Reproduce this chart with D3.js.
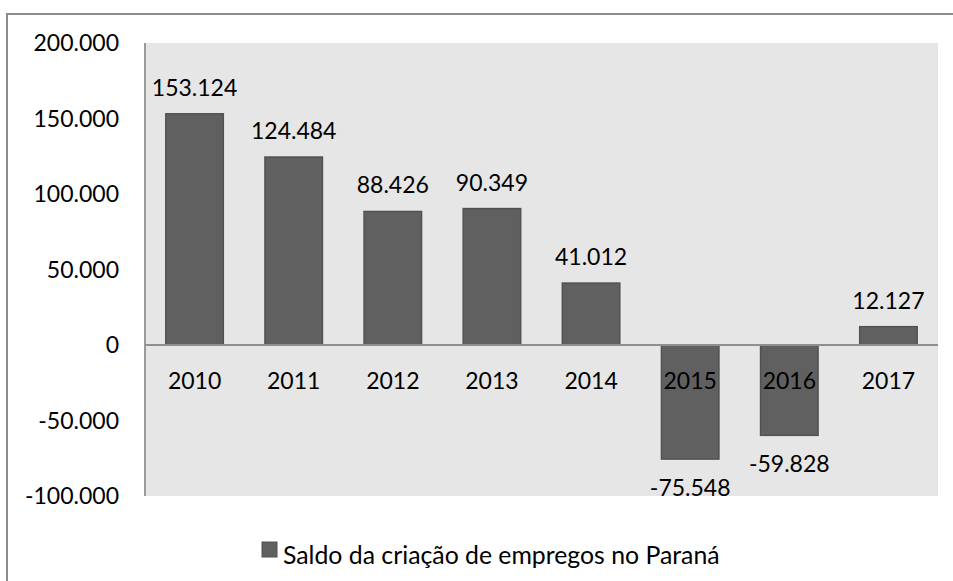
<!DOCTYPE html>
<html>
<head>
<meta charset="utf-8">
<script src="https://cdn.jsdelivr.net/npm/d3@7"></script>
<style>
body { margin: 0; background: #fff; }
text { font-family: Lato, "Open Sans", sans-serif; fill: #000; }
</style>
</head>
<body>
<svg id="chart" width="953" height="581"></svg>
<script>
var years = ["2010", "2011", "2012", "2013", "2014", "2015", "2016", "2017"];
var saldo = [153124, 124484, 88426, 90349, 41012, -75548, -59828, 12127];
var yTicks = [-100000, -50000, 0, 50000, 100000, 150000, 200000];
var legendLabel = "Saldo da criação de empregos no Paraná";

var svg = d3.select("#chart"),
    width = +svg.attr("width"),
    height = +svg.attr("height");

var br = d3.formatLocale({decimal: ",", thousands: ".", grouping: [3], currency: ["R$", ""], minus: "-"});
var fmt = br.format(",d");

// outer frame (cut off right and bottom like the original)
svg.append("rect")
    .attr("x", 7).attr("y", 14)
    .attr("width", 960).attr("height", 600)
    .attr("fill", "#fff")
    .attr("stroke", "#8c8c8c")
    .attr("stroke-width", 2);

var plotL = 145, plotR = 938, plotT = 43, plotB = 496;

var x = d3.scaleBand().domain(years).range([plotL, plotR]).paddingInner(0.42).paddingOuter(0.21);
var y = d3.scaleLinear().domain([-100000, 200000]).range([plotB, plotT]);

svg.append("rect")
    .attr("x", plotL).attr("y", plotT)
    .attr("width", plotR - plotL).attr("height", plotB - plotT)
    .attr("fill", "#e6e6e6");

// y axis line
svg.append("line")
    .attr("x1", plotL).attr("x2", plotL)
    .attr("y1", plotT).attr("y2", plotB)
    .attr("stroke", "#9a9a9a").attr("stroke-width", 2);

svg.append("g")
    .selectAll("text")
    .data(yTicks)
    .enter().append("text")
    .attr("x", 119)
    .attr("y", function (d) { return y(d) + 8; })
    .attr("text-anchor", "end")
    .style("font-size", "23px")
    .text(function (d) { return fmt(d); });

svg.append("g")
    .selectAll("rect")
    .data(saldo)
    .enter().append("rect")
    .attr("x", function (d, i) { return x(years[i]); })
    .attr("width", x.bandwidth())
    .attr("y", function (d) { return y(Math.max(0, d)); })
    .attr("height", function (d) { return Math.abs(y(d) - y(0)); })
    .attr("fill", "#606060")
    .attr("stroke", "#525252")
    .attr("stroke-width", 1.5);

// zero line
svg.append("line")
    .attr("x1", plotL).attr("x2", plotR)
    .attr("y1", y(0)).attr("y2", y(0))
    .attr("stroke", "#8f8f8f").attr("stroke-width", 2);

svg.append("g")
    .selectAll("text")
    .data(years)
    .enter().append("text")
    .attr("x", function (d) { return x(d) + x.bandwidth() / 2; })
    .attr("y", 389)
    .attr("text-anchor", "middle")
    .style("font-size", "23px")
    .text(function (d) { return d; });

svg.append("g")
    .selectAll("text")
    .data(saldo)
    .enter().append("text")
    .attr("x", function (d, i) { return x(years[i]) + x.bandwidth() / 2; })
    .attr("y", function (d) { return d >= 0 ? y(d) - 18 : y(d) + 37; })
    .attr("text-anchor", "middle")
    .style("font-size", "23px")
    .text(function (d) { return fmt(d); });

// legend
var lg = svg.append("g").attr("transform", "translate(262,542)");
lg.append("rect")
    .attr("width", 15).attr("height", 15)
    .attr("fill", "#606060")
    .attr("stroke", "#525252");
lg.append("text")
    .attr("x", 21).attr("y", 22)
    .style("font-size", "24.8px")
    .text(legendLabel);
</script>
</body>
</html>
